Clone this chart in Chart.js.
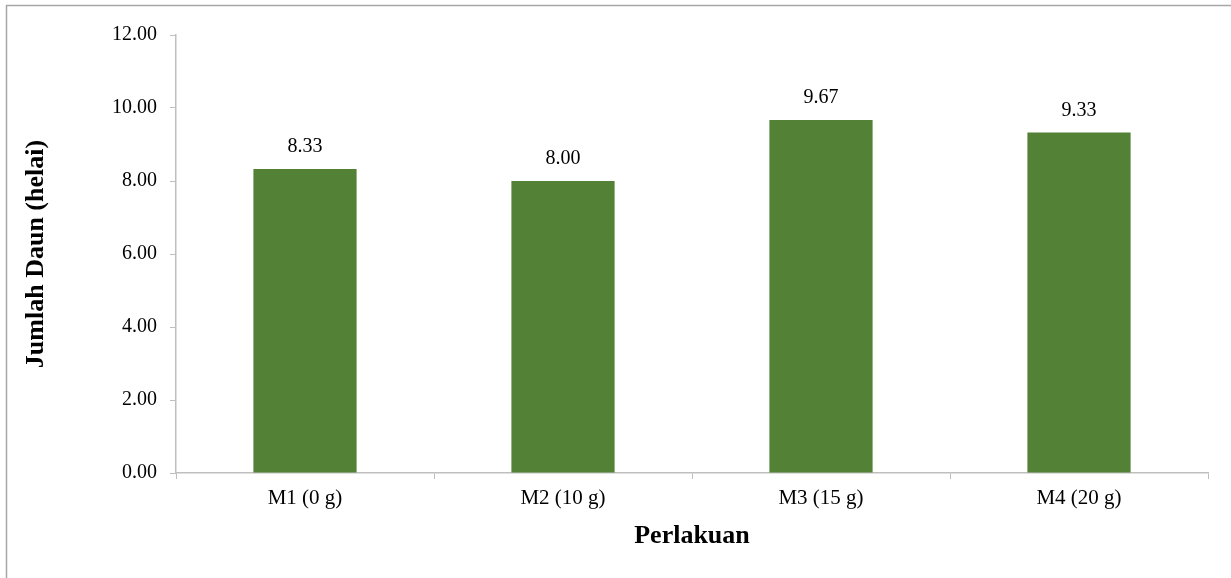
<!DOCTYPE html>
<html><head><meta charset="utf-8">
<script src="https://cdn.jsdelivr.net/npm/chart.js@4/dist/chart.umd.min.js"></script>
<style>html,body{margin:0;padding:0;background:#fff;}#wrap{position:absolute;left:0;top:0;width:1231px;height:578px;}</style>
</head><body><div id="wrap"><canvas id="c" width="1231" height="578"></canvas></div>
<script>
const categories = ["M1 (0 g)", "M2 (10 g)", "M3 (15 g)", "M4 (20 g)"];
const values = [8.33, 8.00, 9.67, 9.33];
const yTitle = "Jumlah Daun (helai)";
const xTitle = "Perlakuan";

const frame = {
  id: 'frame',
  beforeDraw(chart) {
    const ctx = chart.ctx;
    ctx.save();
    ctx.strokeStyle = '#a6a6a6';
    ctx.lineWidth = 1.5;
    ctx.strokeRect(6.5, 5.5, 1240, 600);
    ctx.restore();
  }
};
const labels = {
  id: 'labels',
  afterDatasetsDraw(chart) {
    const ctx = chart.ctx;
    const meta = chart.getDatasetMeta(0);
    ctx.save();
    ctx.font = '20px "Liberation Serif", "Times New Roman", serif';
    ctx.fillStyle = '#000';
    ctx.textAlign = 'center';
    ctx.textBaseline = 'middle';
    meta.data.forEach((el, i) => {
      ctx.fillText(values[i].toFixed(2), el.x, el.y - 22);
    });
    ctx.restore();
  }
};

new Chart(document.getElementById('c'), {
  type: 'bar',
  data: { labels: categories, datasets: [{ data: values, backgroundColor: '#538135', barPercentage: 0.8, categoryPercentage: 0.5 }] },
  options: {
    responsive: false, animation: false,
    layout: { padding: { left: 19, right: 23, top: 35, bottom: 0 } },
    plugins: { legend: { display: false }, tooltip: { enabled: false } },
    scales: {
      x: {
        grid: { drawOnChartArea: false, color: '#bfbfbf', tickLength: 6, offset: true },
        border: { color: '#bfbfbf', width: 1.5 },
        ticks: { color: '#000', font: { family: '"Liberation Serif"', size: 21 }, padding: 7 },
        title: { display: true, text: xTitle, color: '#000', font: { family: '"Liberation Serif"', size: 26, weight: 'bold' }, padding: { top: 4, bottom: 26 } },
        afterFit(s) { s.height = 105; }
      },
      y: {
        min: 0, max: 12,
        grid: { drawOnChartArea: false, color: '#bfbfbf', tickLength: 6 },
        border: { color: '#bfbfbf', width: 1.5 },
        ticks: { stepSize: 2, color: '#000', font: { family: '"Liberation Serif"', size: 20 }, padding: 13, callback: v => v.toFixed(2) },
        title: { display: true, text: yTitle, color: '#000', font: { family: '"Liberation Serif"', size: 26, weight: 'bold' }, padding: { top: 2, bottom: 10 } },
        afterFit(s) { s.width = 157; }
      }
    }
  },
  plugins: [frame, labels]
});
</script></body></html>
